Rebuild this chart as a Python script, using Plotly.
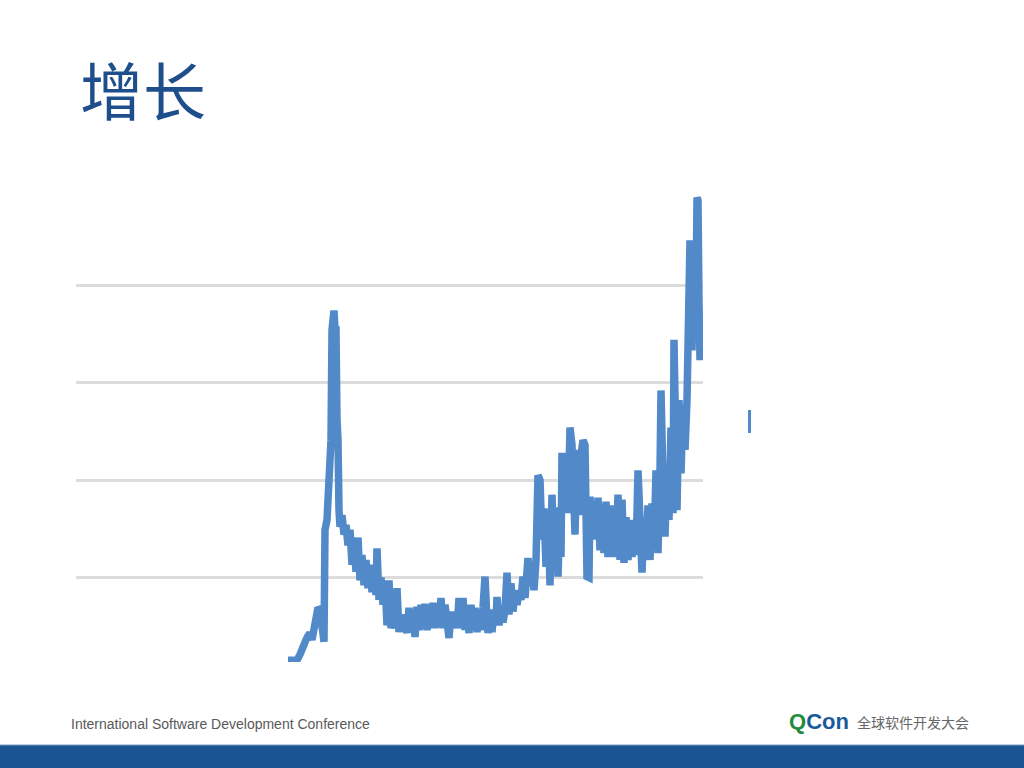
import plotly.graph_objects as go

W, H = 1024, 768

# sample index (time) and value of the growth curve
t = [0, 4, 9, 12, 15, 18, 20, 22, 24, 26, 28, 30, 32, 34, 36, 37, 39, 41, 43, 44,
     45, 46, 47, 48, 49, 50, 51, 52, 54, 56, 58, 60, 62, 64, 66, 68, 70, 72, 74, 76,
     78, 80, 82, 84, 86, 88, 89, 91, 93, 95, 97, 99, 101, 103, 105, 107, 109, 111, 113, 115,
     117, 119, 121, 123, 125, 127, 129, 131, 133, 135, 137, 139, 141, 143, 145, 147, 149, 151, 153, 155,
     157, 159, 161, 163, 165, 167, 169, 171, 173, 175, 177, 179, 181, 183, 185, 187, 189, 191, 193, 195,
     197, 199, 200, 202, 204, 206, 208, 209, 211, 213, 215, 217, 219, 221, 223, 225, 227, 229, 231, 233,
     235, 237, 239, 240, 242, 244, 246, 248, 250, 252, 254, 256, 258, 260, 262, 264, 266, 268, 270, 272,
     273, 274, 276, 278, 280, 282, 284, 286, 287, 289, 291, 293, 295, 297, 299, 301, 302, 304, 306, 308,
     310, 312, 314, 316, 318, 320, 322, 324, 326, 328, 330, 332, 334, 336, 338, 340, 342, 344, 346, 348,
     350, 352, 354, 356, 358, 360, 362, 364, 366, 368, 370, 372, 373, 375, 377, 379, 381, 383, 385, 386,
     388, 389, 391, 393, 395, 397, 399, 400, 402, 404, 406, 408, 409, 410, 411, 412]
value = [15, 15, 15, 21, 31, 36, 40, 43, 36, 51, 62, 69, 67, 36, 34, 149, 159, 200, 241, 354,
         374, 374, 354, 354, 262, 241, 169, 152, 164, 144, 154, 133, 149, 113, 139, 106, 141, 97, 123, 92,
         118, 89, 113, 85, 108, 82, 130, 77, 100, 72, 97, 51, 97, 48, 56, 48, 89, 44, 62, 46,
         56, 43, 69, 44, 67, 39, 70, 46, 72, 48, 73, 46, 72, 48, 74, 48, 71, 49, 79, 48,
         72, 46, 38, 65, 48, 65, 48, 79, 48, 79, 46, 67, 43, 72, 48, 69, 44, 65, 46, 69,
         101, 56, 43, 62, 44, 67, 56, 80, 51, 64, 54, 67, 105, 62, 94, 65, 87, 72, 85, 77,
         101, 79, 113, 120, 92, 108, 87, 118, 205, 200, 139, 171, 111, 169, 92, 185, 118, 172, 101, 169,
         121, 228, 169, 223, 166, 254, 236, 166, 144, 231, 164, 226, 241, 236, 101, 100, 183, 142, 176, 139,
         182, 128, 174, 125, 178, 121, 174, 121, 166, 121, 185, 118, 180, 115, 162, 118, 159, 121, 154, 123,
         210, 159, 105, 162, 118, 174, 118, 176, 128, 210, 125, 210, 292, 200, 142, 213, 159, 254, 166, 344,
         262, 169, 282, 207, 277, 231, 282, 323, 446, 333, 446, 385, 490, 487, 382, 323]

grid_values = [100, 200, 300, 400]

line_color = "#5189C9"

fig = go.Figure()
fig.add_trace(go.Scatter(
    x=t, y=value, mode="lines",
    line=dict(color=line_color, width=7.5),
    hoverinfo="skip", showlegend=False,
))

fig.update_layout(
    width=W, height=H,
    margin=dict(l=0, r=0, t=0, b=0),
    paper_bgcolor="white", plot_bgcolor="white",
    xaxis=dict(domain=[76 / W, 703 / W], range=[-212, 415],
               showgrid=False, zeroline=False, showticklabels=False, showline=False),
    yaxis=dict(domain=[1 - 662 / H, 1 - 180 / H], range=[13.3, 508],
               tickvals=grid_values, showticklabels=False,
               showgrid=True, gridcolor="#dcdcdc", gridwidth=2.5,
               zeroline=False, showline=False),
)

# slide title
fig.add_annotation(
    text="增长", x=78 / W, y=1 - 87 / H, xref="paper", yref="paper",
    xanchor="left", yanchor="middle", showarrow=False,
    font=dict(family="Noto Sans CJK SC", size=63, color="#1F4E8C"),
)

# leftover legend mark
fig.add_shape(type="rect", xref="paper", yref="paper",
              x0=748 / W, x1=751 / W, y0=1 - 433 / H, y1=1 - 410 / H,
              line=dict(width=0), fillcolor=line_color)

# footer
fig.add_annotation(
    text="International Software Development Conference",
    x=69 / W, y=1 - 724 / H, xref="paper", yref="paper",
    xanchor="left", yanchor="middle", showarrow=False,
    font=dict(family="Liberation Sans", size=14, color="#595959"),
)
fig.add_annotation(
    text="<b><span style='color:#1E8C3C'>Q</span>Con</b>",
    x=787 / W, y=1 - 721 / H, xref="paper", yref="paper",
    xanchor="left", yanchor="middle", showarrow=False,
    font=dict(family="Liberation Sans", size=22, color="#1A5A9A"),
)
fig.add_annotation(
    text="全球软件开发大会",
    x=855 / W, y=1 - 722 / H, xref="paper", yref="paper",
    xanchor="left", yanchor="middle", showarrow=False,
    font=dict(family="Noto Sans CJK SC", size=14, color="#666666"),
)
fig.add_shape(type="rect", xref="paper", yref="paper",
              x0=0, x1=1, y0=0, y1=1 - 745 / H,
              line=dict(width=0), fillcolor="#1A5591")
fig.add_shape(type="line", xref="paper", yref="paper",
              x0=0, x1=1, y0=1 - 745 / H, y1=1 - 745 / H,
              line=dict(width=1, color="#7F9FC4"))

# drop the browser's default body margin so the slide sits at 0,0
fig.write_html("out.html", config={"displayModeBar": False},
               post_script="document.body.style.margin='0';document.body.style.overflow='hidden';")
